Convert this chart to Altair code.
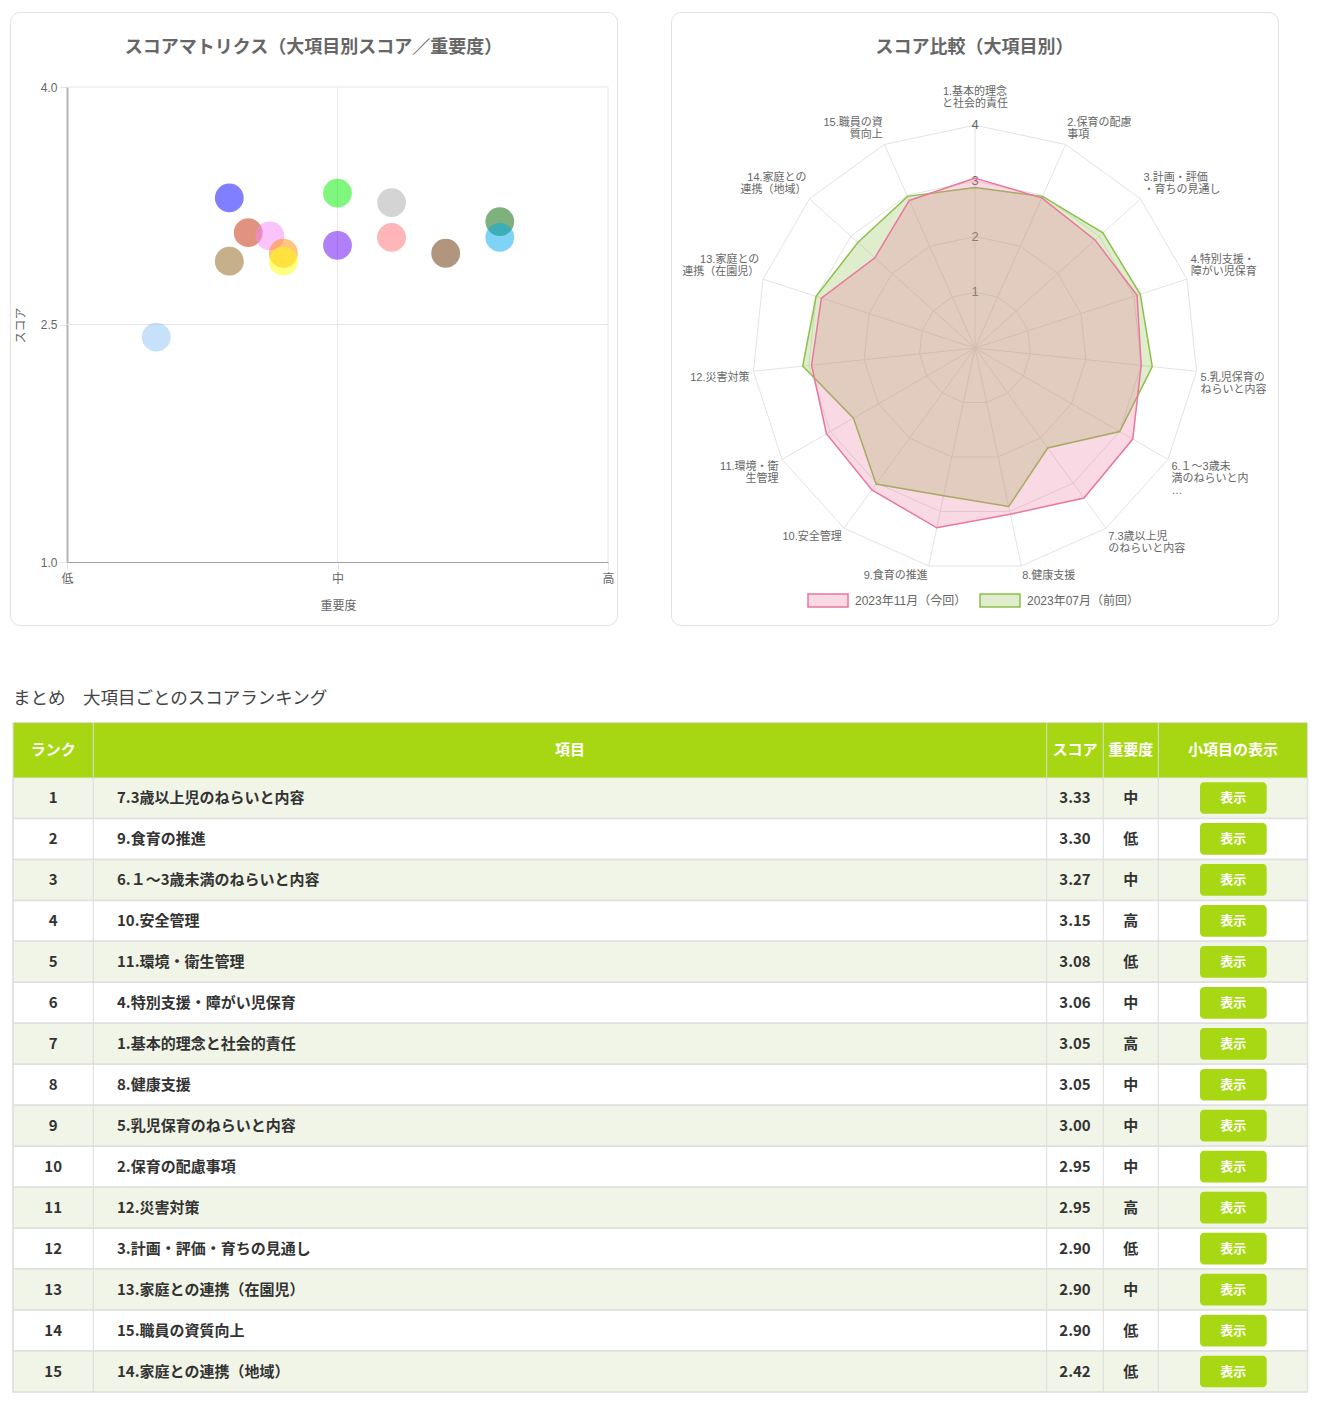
import altair as alt
import pandas as pd

CHART_FONT = "Liberation Sans, Noto Sans CJK JP"
TABLE_FONT = "Noto Sans CJK JP"

# ---------------- data ----------------
item_names = [
    "1.基本的理念と社会的責任",
    "2.保育の配慮事項",
    "3.計画・評価・育ちの見通し",
    "4.特別支援・障がい児保育",
    "5.乳児保育のねらいと内容",
    "6.１～3歳未満のねらいと内容",
    "7.3歳以上児のねらいと内容",
    "8.健康支援",
    "9.食育の推進",
    "10.安全管理",
    "11.環境・衛生管理",
    "12.災害対策",
    "13.家庭との連携（在園児）",
    "14.家庭との連携（地域）",
    "15.職員の資質向上",
]
radar_labels = [
    "1.基本的理念\nと社会的責任",
    "2.保育の配慮\n事項",
    "3.計画・評価\n・育ちの見通し",
    "4.特別支援・\n障がい児保育",
    "5.乳児保育の\nねらいと内容",
    "6.１～3歳未\n満のねらいと内\n…",
    "7.3歳以上児\nのねらいと内容",
    "8.健康支援",
    "9.食育の推進",
    "10.安全管理",
    "11.環境・衛\n生管理",
    "12.災害対策",
    "13.家庭との\n連携（在園児）",
    "14.家庭との\n連携（地域）",
    "15.職員の資\n質向上",
]
score_now = [3.05, 2.95, 2.90, 3.06, 3.00, 3.27, 3.33, 3.05, 3.30, 3.15, 3.08, 2.95, 2.90, 2.42, 2.90]
score_prev = [2.88, 2.98, 3.09, 3.12, 3.20, 3.00, 2.22, 2.91, 2.71, 3.02, 2.52, 3.11, 3.00, 2.83, 2.98]
importance = [2.6, 1.8, 1.6, 1.75, 2.0, 2.2, 2.0, 2.2, 1.6, 2.6, 1.67, 2.4, 1.8, 1.33, 1.6]
importance_level = ["高", "中", "低", "中", "中", "中", "中", "中", "低", "高", "低", "高", "中", "低", "低"]
bubble_colors = ["#00aaeb", "#ff8c00", "#a08250", "#f587f5", "#6400f0", "#a9a9a9", "#00f000", "#ff6e73",
                 "#0000ff", "#006400", "#c12700", "#612d00", "#ffff00", "#91c3f5", "#bea06e"]
series_names = ["2023年11月（今回）", "2023年07月（前回）"]
series_colors = ["#e9779c", "#8cc04b"]

x_tick_values = [1, 2, 3]
x_tick_labels = ["低", "中", "高"]
y_tick_values = [1.0, 2.5, 4.0]
radar_ticks = [1, 2, 3, 4]

scatter_title = "スコアマトリクス（大項目別スコア／重要度）"
radar_title = "スコア比較（大項目別）"
table_title = "まとめ　大項目ごとのスコアランキング"
table_columns = ["ランク", "項目", "スコア", "重要度", "小項目の表示"]
button_label = "表示"

# ranking (score desc, item number asc)
order_idx = sorted(range(len(item_names)), key=lambda k: (-score_now[k], k))
rank_of = {k: r + 1 for r, k in enumerate(order_idx)}

# ---------------- layout constants ----------------
CARD_W, CARD_H = 607, 613
card_view = alt.ViewBackground(fill="white", stroke="#e2e2e2", strokeWidth=1, cornerRadius=10)
GRID = "#e6e6e6"
TXT = "#666666"
TITLE_Y = 36

# ================= scatter =================
sc_x = alt.Scale(domain=[x_tick_values[0], x_tick_values[-1]], range=[57, 598], nice=False, zero=False)
sc_y = alt.Scale(domain=[y_tick_values[0], y_tick_values[-1]], range=[550, 75], nice=False, zero=False)

label_expr = "'" + x_tick_labels[-1] + "'"
for v, l in reversed(list(zip(x_tick_values[:-1], x_tick_labels[:-1]))):
    label_expr = f"datum.value == {v} ? '{l}' : ({label_expr})"

x_axis = alt.Axis(values=x_tick_values, labelExpr=label_expr, offset=-63, grid=False,
                  domainColor="#a0a0a0", domainWidth=1, tickColor=GRID, tickSize=8,
                  labelPadding=3, labelFontSize=12, labelColor=TXT, labelFlush=False, labelOverlap=False,
                  title="重要度", titleFontSize=12, titleFontWeight="normal", titleColor=TXT,
                  titleX=328, titleY=43, titleBaseline="middle", titleAlign="center")
y_axis = alt.Axis(values=y_tick_values, format=".1f", offset=-57, grid=False,
                  domainColor="#b5b5b5", domainWidth=2, tickColor=GRID, tickSize=8,
                  labelPadding=2, labelFontSize=12, labelColor=TXT, labelFlush=False, labelOverlap=False,
                  title="スコア", titleFontSize=12, titleFontWeight="normal", titleColor=TXT,
                  titleX=-47, titleY=313, titleBaseline="middle", titleAlign="center")

sc_df = pd.DataFrame({
    "item": item_names,
    "imp": importance,
    "score": score_now,
    "rank": [rank_of[k] for k in range(len(item_names))],
}).sort_values("rank")

gv_df = pd.DataFrame({"x": x_tick_values[1:], "y1": y_tick_values[0], "y2": y_tick_values[-1]})
gh_df = pd.DataFrame({"y": y_tick_values[1:], "x1": x_tick_values[0], "x2": x_tick_values[-1]})

grid_v = alt.Chart(gv_df).mark_rule(color=GRID, strokeWidth=1).encode(
    x=alt.X("x:Q", scale=sc_x, axis=x_axis),
    y=alt.Y("y1:Q", scale=sc_y, axis=y_axis), y2="y2:Q")
grid_h = alt.Chart(gh_df).mark_rule(color=GRID, strokeWidth=1).encode(
    y=alt.Y("y:Q", scale=sc_y, axis=y_axis),
    x=alt.X("x1:Q", scale=sc_x, axis=x_axis), x2="x2:Q")

bubbles = alt.Chart(sc_df).mark_circle(size=830, opacity=0.5).encode(
    x=alt.X("imp:Q", scale=sc_x, axis=x_axis),
    y=alt.Y("score:Q", scale=sc_y, axis=y_axis),
    color=alt.Color("item:N", scale=alt.Scale(domain=item_names, range=bubble_colors), legend=None),
)

sc_title = alt.Chart(pd.DataFrame({"t": [scatter_title]})).mark_text(
    font=CHART_FONT, fontSize=18, fontWeight="bold", color=TXT).encode(
    text="t:N", x=alt.value(303.5), y=alt.value(TITLE_Y))

scatter = alt.layer(grid_v, grid_h, bubbles, sc_title).properties(
    width=CARD_W, height=CARD_H, view=card_view)

# ================= radar =================
CX, CY, R = 304, 336, 222.8
PPU = R / radar_ticks[-1]          # pixels per unit
rmax = radar_ticks[-1]
rx = alt.Scale(domain=[-rmax, rmax], range=[CX - R, CX + R], nice=False, zero=False)
ry = alt.Scale(domain=[-rmax, rmax], range=[CY + R, CY - R], nice=False, zero=False)
N = len(item_names)
ang = f"2*PI*datum.i/{N}"

ring_df = pd.DataFrame([{"v": v, "i": i} for v in radar_ticks for i in range(N)])
rings = alt.Chart(ring_df).transform_calculate(
    x=f"datum.v*sin({ang})", y=f"datum.v*cos({ang})"
).mark_line(interpolate="linear-closed", stroke="#e3e3e3", strokeWidth=1).encode(
    x=alt.X("x:Q", scale=rx, axis=None), y=alt.Y("y:Q", scale=ry, axis=None),
    detail="v:N", order="i:Q")

spoke_df = pd.DataFrame({"i": list(range(N))})
spokes = alt.Chart(spoke_df).transform_calculate(
    x0="0", y0="0", xe=f"{rmax}*sin({ang})", ye=f"{rmax}*cos({ang})"
).mark_rule(color="#e3e3e3", strokeWidth=1).encode(
    x=alt.X("x0:Q", scale=rx, axis=None), y=alt.Y("y0:Q", scale=ry, axis=None),
    x2="xe:Q", y2="ye:Q")

tick_df = pd.DataFrame({"v": radar_ticks})
ticks = alt.Chart(tick_df).transform_calculate(x0="0").mark_text(
    font=CHART_FONT, fontSize=13, color=TXT).encode(
    x=alt.X("x0:Q", scale=rx, axis=None), y=alt.Y("v:Q", scale=ry, axis=None), text="v:N")

series_df = pd.DataFrame(
    [{"series": series_names[0], "i": i, "value": score_now[i]} for i in range(N)] +
    [{"series": series_names[1], "i": i, "value": score_prev[i]} for i in range(N)])


def polygon(idx):
    return alt.Chart(series_df).transform_filter(
        alt.datum.series == series_names[idx]
    ).transform_calculate(
        x=f"datum.value*sin({ang})", y=f"datum.value*cos({ang})"
    ).mark_line(interpolate="linear-closed", stroke=series_colors[idx], strokeWidth=1.5,
                fill=series_colors[idx], fillOpacity=0.28).encode(
        x=alt.X("x:Q", scale=rx, axis=None), y=alt.Y("y:Q", scale=ry, axis=None), order="i:Q")


poly_prev = polygon(1)
poly_now = polygon(0)

LINE_H = 12
lab_df = pd.DataFrame({
    "i": list(range(N)),
    "label": radar_labels,
    "nlines": [len(s.split("\n")) for s in radar_labels],
})
r_base = (R + 4) / PPU
r_top = (R + 15) / PPU
# (filter, align, label sits above its anchor?)
label_groups = [
    ("datum.i == 0", "center", True),
    ("datum.i >= 1 && datum.i <= 3", "left", True),
    ("datum.i >= 4 && datum.i <= 7", "left", False),
    ("datum.i >= 8 && datum.i <= 11", "right", False),
    ("datum.i >= 12", "right", True),
]
label_layers = []
for cond, al, above in label_groups:
    lift = f" + datum.nlines*{LINE_H}/{PPU}" if above else ""
    label_layers.append(
        alt.Chart(lab_df).transform_filter(cond).transform_calculate(
            r=f"datum.i == 0 ? {r_top} : {r_base}"
        ).transform_calculate(
            x=f"datum.r*sin({ang})", y=f"datum.r*cos({ang})" + lift
        ).mark_text(font=CHART_FONT, fontSize=11, color=TXT, align=al, baseline="top",
                    lineBreak="\n", lineHeight=LINE_H).encode(
            x=alt.X("x:Q", scale=rx, axis=None), y=alt.Y("y:Q", scale=ry, axis=None),
            text="label:N")
    )

rd_title = alt.Chart(pd.DataFrame({"t": [radar_title]})).mark_text(
    font=CHART_FONT, fontSize=18, fontWeight="bold", color=TXT).encode(
    text="t:N", x=alt.value(303.5), y=alt.value(TITLE_Y))

legend_layers = []
for idx, (bx, tx) in enumerate([(137, 184), (309, 356)]):
    ldf = pd.DataFrame({"s": [series_names[idx]]})
    legend_layers.append(alt.Chart(ldf).mark_rect(
        fill=series_colors[idx], fillOpacity=0.28, stroke=series_colors[idx], strokeWidth=1.5).encode(
        x=alt.value(bx), x2=alt.value(bx + 40), y=alt.value(582), y2=alt.value(595)))
    legend_layers.append(alt.Chart(ldf).mark_text(
        font=CHART_FONT, fontSize=12, color=TXT, align="left").encode(
        text="s:N", x=alt.value(tx), y=alt.value(588.5)))

radar = alt.layer(rings, spokes, ticks, poly_prev, poly_now, *label_layers, rd_title,
                  *legend_layers).properties(width=CARD_W, height=CARD_H, view=card_view)

# ================= table =================
TW, TH = 1298, 712
col_edges = [3, 83.3, 1036.7, 1093.3, 1148.3, 1297.5]
HEAD_Y0, HEAD_Y1, ROWS_Y1 = 41.5, 96.5, 711
BTN_X0, BTN_X1 = 1190, 1256.7
BTN_HALF = 0.387
GREEN = "#a6d712"
BORDER = "#e0e0e0"

nrows = len(item_names)
ty = alt.Scale(domain=[0.5, nrows + 0.5], range=[HEAD_Y1, ROWS_Y1], nice=False, zero=False)

tb_df = pd.DataFrame({
    "rank": list(range(1, nrows + 1)),
    "item": [item_names[k] for k in order_idx],
    "score": [f"{score_now[k]:.2f}" for k in order_idx],
    "level": [importance_level[k] for k in order_idx],
    "btn": button_label,
})
tb_df["parity"] = ["odd" if r % 2 == 1 else "even" for r in tb_df["rank"]]

base = alt.Chart(tb_df).transform_calculate(
    r0="datum.rank - 0.5", r1="datum.rank + 0.5",
    b0=f"datum.rank - {BTN_HALF}", b1=f"datum.rank + {BTN_HALF}")

rows = base.mark_rect(stroke=BORDER, strokeWidth=1.5).encode(
    x=alt.value(col_edges[0]), x2=alt.value(col_edges[-1]),
    y=alt.Y("r0:Q", scale=ty, axis=None), y2="r1:Q",
    fill=alt.Fill("parity:N", scale=alt.Scale(domain=["odd", "even"], range=["#f1f5e7", "#ffffff"]),
                  legend=None))

one = pd.DataFrame({"t": [table_title]})
header = alt.Chart(one).mark_rect(fill=GREEN).encode(
    x=alt.value(col_edges[0]), x2=alt.value(col_edges[-1]),
    y=alt.value(HEAD_Y0), y2=alt.value(HEAD_Y1))

col_lines = []
for e in col_edges[1:-1]:
    col_lines.append(alt.Chart(one).mark_rule(color="#dcdcdc", strokeWidth=1).encode(
        x=alt.value(e), y=alt.value(HEAD_Y0), y2=alt.value(ROWS_Y1)))
outer = alt.Chart(one).mark_rect(fill="transparent", stroke=BORDER, strokeWidth=1).encode(
    x=alt.value(col_edges[0]), x2=alt.value(col_edges[-1]),
    y=alt.value(HEAD_Y0), y2=alt.value(ROWS_Y1))

head_texts = []
for ci, name in enumerate(table_columns):
    cx = (col_edges[ci] + col_edges[ci + 1]) / 2
    head_texts.append(alt.Chart(pd.DataFrame({"h": [name]})).mark_text(
        font=TABLE_FONT, fontSize=15, fontWeight="bold", color="white").encode(
        text="h:N", x=alt.value(cx), y=alt.value((HEAD_Y0 + HEAD_Y1) / 2)))

cell_style = dict(font=TABLE_FONT, fontSize=15, fontWeight="bold", color="#333333")
t_rank = base.mark_text(**cell_style).encode(
    x=alt.value((col_edges[0] + col_edges[1]) / 2), y=alt.Y("rank:Q", scale=ty, axis=None), text="rank:N")
t_item = base.mark_text(align="left", **cell_style).encode(
    x=alt.value(107), y=alt.Y("rank:Q", scale=ty, axis=None), text="item:N")
t_score = base.mark_text(**cell_style).encode(
    x=alt.value((col_edges[2] + col_edges[3]) / 2), y=alt.Y("rank:Q", scale=ty, axis=None), text="score:N")
t_level = base.mark_text(**cell_style).encode(
    x=alt.value((col_edges[3] + col_edges[4]) / 2), y=alt.Y("rank:Q", scale=ty, axis=None), text="level:N")
btn = base.mark_rect(fill="#a8d813", cornerRadius=4).encode(
    x=alt.value(BTN_X0), x2=alt.value(BTN_X1),
    y=alt.Y("b0:Q", scale=ty, axis=None), y2="b1:Q")
t_btn = base.mark_text(font=TABLE_FONT, fontSize=13, fontWeight="bold", color="white").encode(
    x=alt.value((BTN_X0 + BTN_X1) / 2), y=alt.Y("rank:Q", scale=ty, axis=None), text="btn:N")

t_title = alt.Chart(one).mark_text(font=TABLE_FONT, fontSize=17.5, color="#444444", align="left").encode(
    text="t:N", x=alt.value(3), y=alt.value(18))

table = alt.layer(rows, header, *col_lines, outer, *head_texts, t_rank, t_item, t_score, t_level,
                  btn, t_btn, t_title).properties(width=TW, height=TH)

chart = alt.vconcat(
    alt.hconcat(scatter, radar, spacing=52),
    table,
    spacing=55,
).properties(
    padding={"left": 1, "top": 3, "right": 0, "bottom": 0},
    background="white",
).configure_view(strokeWidth=0).configure_axis(labelFont=CHART_FONT, titleFont=CHART_FONT)

chart.save("out.html", embed_options={"renderer": "svg", "actions": False})
